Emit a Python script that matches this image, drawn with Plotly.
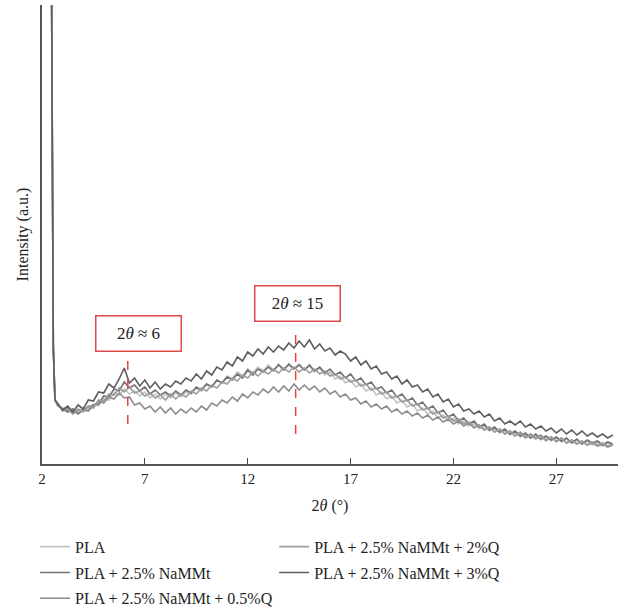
import plotly.graph_objects as go

# ---------------- data ----------------
# 2theta grid: spike at the start, then 0.25 deg steps from 2.75 to 29.75
spike_x = [2.45, 2.55, 2.63]
grid_x = [round(2.75 + 0.25 * i, 2) for i in range(109)]
two_theta = spike_x + grid_x

spike_y = [540, 117, 64]

pla = [
    58, 56, 53, 55, 52, 56, 55, 60,
    58, 65, 64, 71, 69, 75, 70, 73,
    68, 72, 66, 70, 65, 70, 66, 71,
    67, 72, 70, 76, 73, 80, 77, 84,
    81, 88, 85, 92, 88, 95, 91, 97,
    93, 99, 94, 100, 95, 99, 95, 100,
    94, 98, 92, 96, 89, 92, 85, 88,
    81, 84, 77, 80, 73, 76, 69, 72,
    65, 68, 61, 64, 57, 60, 53, 56,
    50, 53, 46, 49, 43, 46, 40, 43,
    38, 41, 35, 38, 33, 36, 31, 34,
    29, 32, 27, 30, 26, 29, 24, 28,
    23, 27, 22, 25, 21, 24, 20, 23,
    19, 22, 18, 21, 19,
]
nammt = [
    59, 55, 52, 55, 50, 54, 53, 59,
    60, 68, 67, 75, 73, 82, 76, 79,
    73, 77, 70, 74, 69, 72, 68, 73,
    69, 74, 71, 77, 74, 80, 77, 84,
    81, 87, 84, 90, 86, 94, 89, 95,
    92, 97, 93, 99, 94, 100, 95, 99,
    94, 99, 93, 97, 91, 95, 89, 92,
    86, 90, 83, 86, 79, 82, 75, 77,
    71, 74, 67, 70, 63, 66, 59, 62,
    55, 58, 51, 54, 47, 50, 43, 46,
    40, 43, 37, 40, 34, 37, 32, 35,
    30, 33, 28, 31, 26, 30, 25, 28,
    24, 27, 23, 26, 21, 25, 20, 24,
    21, 23, 19, 22, 20,
]
nammt_05q = [
    61, 53, 55, 50, 54, 53, 58, 58,
    63, 61, 67, 65, 71, 66, 67, 59,
    61, 55, 58, 52, 57, 51, 56, 50,
    55, 51, 56, 52, 58, 54, 61, 58,
    64, 61, 67, 63, 70, 66, 72, 69,
    75, 71, 77, 72, 78, 73, 80, 74,
    79, 74, 78, 72, 76, 70, 73, 67,
    70, 64, 66, 60, 63, 57, 60, 55,
    58, 52, 55, 50, 53, 48, 51, 46,
    49, 44, 47, 42, 45, 40, 43, 38,
    41, 36, 39, 34, 37, 32, 35, 30,
    33, 28, 32, 27, 30, 26, 29, 24,
    27, 23, 26, 21, 24, 20, 23, 19,
    21, 18, 20, 17, 19,
]
nammt_2q = [
    60, 54, 56, 51, 55, 52, 57, 56,
    64, 63, 70, 69, 76, 72, 77, 71,
    73, 68, 71, 66, 69, 64, 70, 65,
    70, 67, 73, 70, 76, 73, 79, 76,
    82, 80, 86, 83, 89, 86, 92, 88,
    93, 90, 95, 91, 96, 92, 97, 92,
    96, 91, 95, 90, 93, 88, 90, 85,
    87, 82, 84, 78, 80, 74, 76, 70,
    72, 66, 68, 62, 64, 58, 60, 54,
    56, 50, 52, 46, 48, 43, 45, 40,
    42, 37, 39, 34, 37, 32, 35, 30,
    33, 28, 31, 26, 29, 25, 28, 23,
    27, 22, 26, 21, 24, 20, 23, 19,
    22, 19, 21, 18, 20,
]
nammt_3q = [
    61, 54, 58, 52, 59, 55, 64, 63,
    72, 71, 80, 76, 85, 96, 81, 86,
    78, 84, 76, 82, 75, 80, 77, 83,
    80, 86, 83, 90, 85, 93, 89, 97,
    94, 102, 98, 107, 103, 112, 108, 115,
    110, 117, 112, 118, 114, 121, 116, 123,
    117, 124, 115, 120, 113, 116, 109, 113,
    110, 103, 107, 99, 103, 95, 98, 90,
    92, 85, 88, 80, 84, 77, 79, 72,
    75, 67, 70, 62, 65, 57, 60, 53,
    55, 50, 53, 47, 50, 43, 46, 40,
    43, 39, 43, 37, 40, 35, 38, 33,
    36, 31, 35, 30, 34, 29, 33, 28,
    31, 27, 30, 26, 29,
]

series_names = [
    "PLA",
    "PLA + 2.5% NaMMt",
    "PLA + 2.5% NaMMt + 0.5%Q",
    "PLA + 2.5% NaMMt + 2%Q",
    "PLA + 2.5% NaMMt + 3%Q",
]
series_values = [pla, nammt, nammt_05q, nammt_2q, nammt_3q]
series_colors = ["#c3c3c3", "#727272", "#8c8c8c", "#9d9d9d", "#5e5e5e"]
series_legend = ["legend", "legend", "legend", "legend2", "legend2"]

x_ticks = [2, 7, 12, 17, 22, 27]

# peak markers: (label, 2theta of dashed line, dashed y0, dashed y1, box x, box y)
peak_marks = [
    ("2<i>θ</i> ≈ 6", 6.17, 40, 108, 6.71, 131),
    ("2<i>θ</i> ≈ 15", 14.33, 30, 132, 14.43, 161),
]

FONT = "Liberation Serif"

fig = go.Figure()
for name, vals, col, lg in zip(series_names, series_values, series_colors, series_legend):
    fig.add_trace(go.Scatter(
        x=two_theta,
        y=spike_y + vals,
        mode="lines",
        name=name,
        line=dict(color=col, width=1.6),
        legend=lg,
        legendgroup=name,
    ))

shapes = []
annotations = []
for label, lx, y0, y1, bx, by in peak_marks:
    shapes.append(dict(type="line", xref="x", yref="y", x0=lx, x1=lx, y0=y0, y1=y1,
                       line=dict(color="#e8413a", width=1.5, dash="dash")))
    annotations.append(dict(x=bx, y=by, xref="x", yref="y", text=label, showarrow=False,
                            font=dict(family=FONT, size=17, color="#222222"),
                            bordercolor="#e04848", borderwidth=1.5, borderpad=0,
                            width=84, height=34, bgcolor="white"))

legend_common = dict(
    xref="paper", yref="container", yanchor="top", xanchor="left",
    font=dict(family=FONT, size=16, color="#222222"),
    bgcolor="rgba(0,0,0,0)", tracegroupgap=2, orientation="v",
)

fig.update_layout(
    width=624, height=611,
    margin=dict(l=42, r=6, t=5, b=147),
    paper_bgcolor="white", plot_bgcolor="white",
    font=dict(family=FONT, size=15, color="#222222"),
    showlegend=True,
    legend=dict(x=-0.012, y=0.133, **legend_common),
    legend2=dict(x=0.403, y=0.133, **legend_common),
    shapes=shapes,
    annotations=annotations,
    xaxis=dict(
        range=[2, 30], tickvals=x_ticks, ticktext=[str(t) for t in x_ticks],
        ticks="inside", ticklen=6, tickwidth=1.2, tickcolor="#444444",
        showline=True, linecolor="#555555", linewidth=1.8,
        showgrid=False, zeroline=False,
        tickfont=dict(family=FONT, size=15, color="#222222"),
        title=dict(text="2<i>θ</i> (°)", font=dict(family=FONT, size=16, color="#222222"), standoff=14),
    ),
    yaxis=dict(
        range=[0, 459], showticklabels=False, ticks="",
        showline=True, linecolor="#555555", linewidth=1.8,
        showgrid=False, zeroline=False,
        title=dict(text="Intensity (a.u.)", font=dict(family=FONT, size=16, color="#222222"), standoff=8),
    ),
)

fig.write_html("out.html")
